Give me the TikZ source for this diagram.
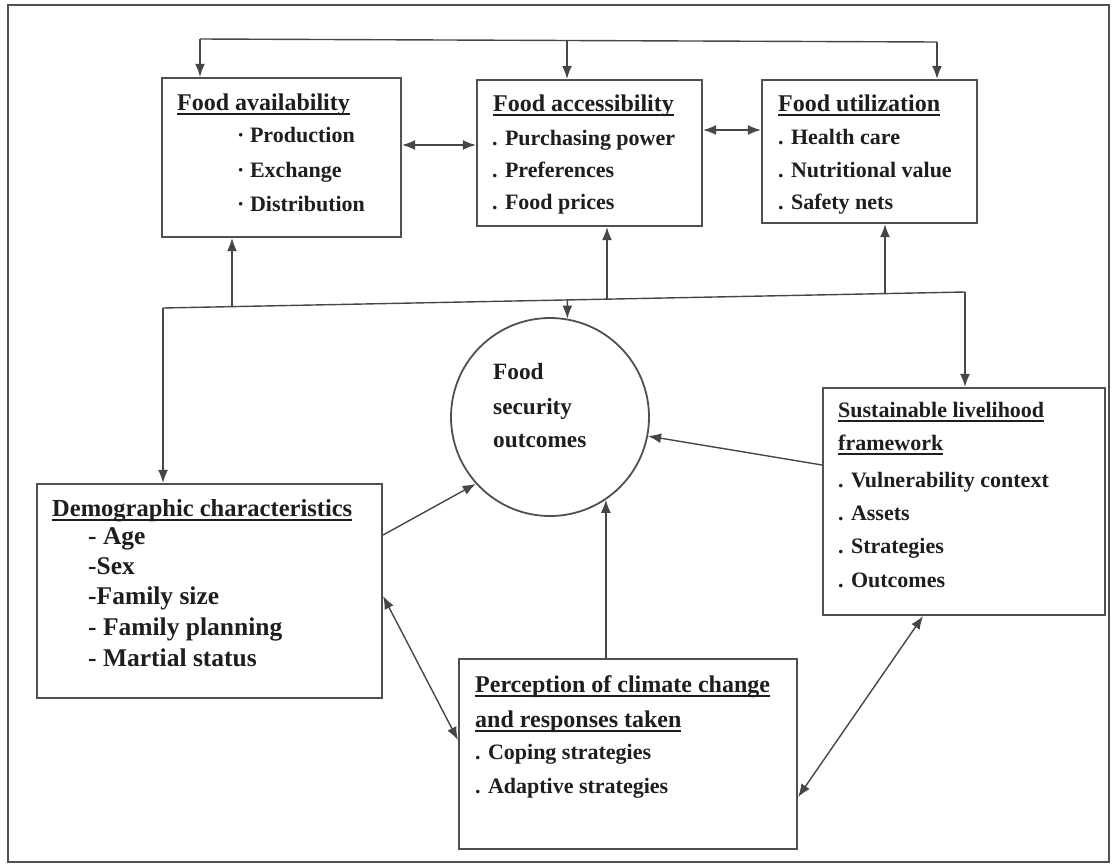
\documentclass[tikz,border=0pt]{standalone}
\usepackage{fontspec}
\setmainfont{Liberation Serif}
\usetikzlibrary{arrows.meta,calc}
\definecolor{boxgray}{RGB}{80,80,80}
\definecolor{linegray}{RGB}{70,70,70}
\definecolor{textcol}{RGB}{30,30,30}
\newcommand\ulx[1]{\setbox0\hbox{#1}\rlap{\raisebox{-4.5pt}{\rule{\wd0}{2pt}}}\box0}
\begin{document}
\begin{tikzpicture}[x=1pt,y=-1pt,
  outerframe/.style={draw=boxgray, line width=1.6pt, rectangle, inner sep=0pt},
  box/.style={draw=boxgray, line width=2.2pt, rectangle, inner sep=0pt},
  circ/.style={draw=boxgray, line width=1.8pt, circle, inner sep=0pt, minimum size=198pt},
  conn/.style={draw=linegray, line width=1.4pt},
  tip/.tip={Latex[length=13pt,width=10pt]},
  arr/.style={conn, -tip},
  darr/.style={conn, tip-tip},
  txt/.style={anchor=base west, inner sep=0pt, font=\fontsize{22}{26}\selectfont\bfseries, text=textcol},
  bigtxt/.style={txt, font=\fontsize{24}{28}\selectfont\bfseries},
  demotxt/.style={txt, font=\fontsize{25.5}{28}\selectfont\bfseries},
]
\useasboundingbox (0,0) rectangle (1114,865);
\node[outerframe, minimum width=1101pt, minimum height=857pt] (frame) at (558.5,433.5) {};

% boxes
\node[box, minimum width=239pt, minimum height=159pt] (avail) at (281.5,157.5) {};
\node[box, minimum width=225pt, minimum height=146pt] (access) at (589.5,153) {};
\node[box, minimum width=215pt, minimum height=143pt] (util) at (869.5,151.5) {};
\node[box, minimum width=345pt, minimum height=214pt] (demo) at (209.5,591) {};
\node[box, minimum width=338pt, minimum height=190pt] (percep) at (628,754) {};
\node[box, minimum width=282pt, minimum height=227pt] (sust) at (964,501.5) {};
\node[circ] (fso) at (550,417) {};

% texts
\node[bigtxt] (a0) at (177,110) {\ulx{Food availability}};
\node[txt] (a1) at (237,142) {· Production};
\node[txt] (a2) at (237,177) {· Exchange};
\node[txt] (a3) at (237,211) {· Distribution};

\node[bigtxt] (b0) at (493,111) {\ulx{Food accessibility}};
\node[txt] (b1) at (492,145) {. Purchasing power};
\node[txt] (b2) at (492,177) {. Preferences};
\node[txt] (b3) at (492,209) {. Food prices};

\node[bigtxt] (c0) at (778,111) {\ulx{Food utilization}};
\node[txt] (c1) at (778,144) {. Health care};
\node[txt] (c2) at (778,177) {. Nutritional value};
\node[txt] (c3) at (778,209) {. Safety nets};

\node[txt, font=\fontsize{23.3}{27}\selectfont\bfseries] (f1) at (493,379) {Food};
\node[txt, font=\fontsize{23.3}{27}\selectfont\bfseries] (f2) at (493,414) {security};
\node[txt, font=\fontsize{23.3}{27}\selectfont\bfseries] (f3) at (493,447) {outcomes};

\node[txt] (s0) at (838,417) {\ulx{Sustainable livelihood}};
\node[txt] (s1) at (838,450) {\ulx{framework}};
\node[txt] (s2) at (838,487) {. Vulnerability context};
\node[txt] (s3) at (838,520) {. Assets};
\node[txt] (s4) at (838,553) {. Strategies};
\node[txt] (s5) at (838,587) {. Outcomes};

\node[bigtxt, font=\fontsize{24.5}{28}\selectfont\bfseries] (d0) at (52,516) {\ulx{Demographic characteristics}};
\node[demotxt] (d1) at (88,544) {- Age};
\node[demotxt] (d2) at (88,574) {-Sex};
\node[demotxt] (d3) at (88,604) {-Family size};
\node[demotxt] (d4) at (88,635) {- Family planning};
\node[demotxt] (d5) at (88,666) {- Martial status};

\node[bigtxt] (p0) at (475,692) {\ulx{Perception of climate change}};
\node[bigtxt] (p1) at (475,727) {\ulx{and responses taken}};
\node[txt] (p2) at (475,759) {. Coping strategies};
\node[txt] (p3) at (475,793) {. Adaptive strategies};

% top distribution line
\coordinate (T1) at (200,39);
\coordinate (T2) at (567,40.5);
\coordinate (T3) at (937,42);
\draw[conn] (T1) -- (T3);
\draw[arr] (T1) -- (T1 |- avail.north);
\draw[arr] (T2) -- (T2 |- access.north);
\draw[arr] (T3) -- (T3 |- util.north);

% horizontal links between top boxes
\coordinate (h1) at (0,145);
\coordinate (h2) at (0,130);
\draw[darr] (avail.east |- h1) -- (access.west |- h1);
\draw[darr] (access.east |- h2) -- (util.west |- h2);

% middle slanted line
\coordinate (M1) at (163,308);
\coordinate (M2) at (965,292);
\coordinate (U1) at (232,306.6);
\coordinate (U2) at (607,299.1);
\coordinate (U3) at (885,293.6);
\coordinate (D1) at (567.4,299.9);
\draw[conn] (M1) -- (M2);
\draw[arr] (M1) -- (M1 |- demo.north);
\draw[arr] (M2) -- (M2 |- sust.north);
\draw[arr] (U1) -- (U1 |- avail.south);
\draw[arr] (U2) -- (U2 |- access.south);
\draw[arr] (U3) -- (U3 |- util.south);
\draw[arr] (D1) -- (fso.80);

% links to the circle
\coordinate (e1) at (0,535);
\coordinate (e2) at (0,465);
\draw[arr] (demo.east |- e1) -- (fso.222);
\draw[arr] (sust.west |- e2) -- (fso.-11);
\draw[arr] (percep.north -| fso.-56) -- (fso.-56);

% bottom bidirectional links
\coordinate (g1) at (0,596);
\coordinate (g2) at (0,740);
\coordinate (g3) at (0,797);
\coordinate (g4) at (923,0);
\draw[darr] (demo.east |- g1) -- (percep.west |- g2);
\draw[darr] (percep.east |- g3) -- (sust.south -| g4);
\end{tikzpicture}
\end{document}
